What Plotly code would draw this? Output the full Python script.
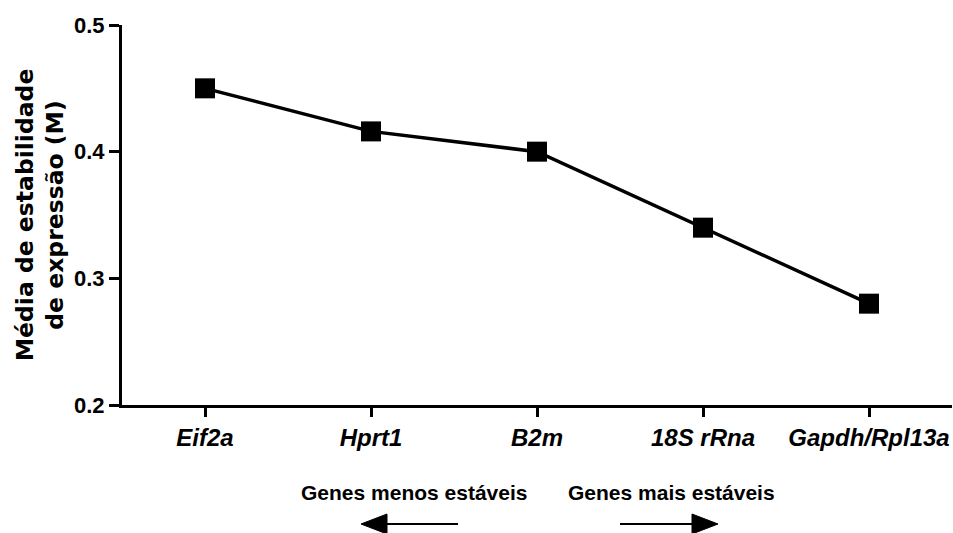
import plotly.graph_objects as go

# Expression stability (geNorm M value) per reference gene, least to most stable
genes = ["Eif2a", "Hprt1", "B2m", "18S rRna", "Gapdh/Rpl13a"]
m_values = [0.450, 0.416, 0.400, 0.340, 0.280]

y_ticks = [0.2, 0.3, 0.4, 0.5]
y_tick_text = ["0.2", "0.3", "0.4", "0.5"]

W, H = 953, 533
L, R, T, B = 122, 1, 25, 128
PW, PH = W - L - R, H - T - B

def px(x):
    return (x - L) / PW

def py(y):
    return (H - B - y) / PH

fig = go.Figure()
fig.add_trace(go.Scatter(
    x=list(range(len(genes))),
    y=m_values,
    mode="lines+markers",
    line=dict(color="black", width=3.5),
    marker=dict(symbol="square", size=20, color="black"),
    showlegend=False,
    hoverinfo="skip",
    cliponaxis=False,
))

fig.update_xaxes(
    range=[-0.5, len(genes) - 0.5],
    tickmode="array",
    tickvals=list(range(len(genes))),
    ticktext=genes,
    tickfont=dict(family="Liberation Sans", size=24, color="black",
                  weight="bold", style="italic"),
    ticks="outside", ticklen=9, tickwidth=3, tickcolor="black",
    showline=True, linewidth=3, linecolor="black",
    showgrid=False, zeroline=False,
)
fig.update_yaxes(
    range=[0.2, 0.5],
    tickmode="array",
    tickvals=y_ticks,
    ticktext=y_tick_text,
    tickfont=dict(family="Liberation Sans", size=22, color="black", weight="bold"),
    ticks="outside", ticklen=10, tickwidth=3, tickcolor="black",
    showline=True, linewidth=3, linecolor="black",
    showgrid=False, zeroline=False,
    title=dict(
        text="Média de estabilidade<br>de expressão (M)",
        font=dict(family="DejaVu Sans", size=23.5, color="black", weight="bold"),
        standoff=4,
    ),
)

# Direction labels and arrows beneath the axis
label_font = dict(family="Liberation Sans", size=21, color="black", weight="bold")
fig.add_annotation(text="Genes menos estáveis", x=px(414), y=py(492),
                   xref="paper", yref="paper", showarrow=False, font=label_font,
                   xanchor="center", yanchor="middle")
fig.add_annotation(text="Genes mais estáveis", x=px(671), y=py(492),
                   xref="paper", yref="paper", showarrow=False, font=label_font,
                   xanchor="center", yanchor="middle")

arrow_y = 524
head_len, head_half = 26, 10
arrows = [(458, 361), (620, 718)]  # (tail, tip) in pixels
for tail, tip in arrows:
    d = 1 if tip > tail else -1
    base = tip - d * head_len
    fig.add_shape(type="line", xref="paper", yref="paper",
                  x0=px(tail), y0=py(arrow_y), x1=px(base), y1=py(arrow_y),
                  line=dict(color="black", width=2))
    fig.add_shape(type="path", xref="paper", yref="paper",
                  path=(f"M {px(tip)} {py(arrow_y)} "
                        f"L {px(base)} {py(arrow_y - head_half)} "
                        f"L {px(base)} {py(arrow_y + head_half)} Z"),
                  fillcolor="black", line=dict(color="black", width=1))

fig.update_layout(
    width=W, height=H,
    margin=dict(l=L, r=R, t=T, b=B, autoexpand=False),
    paper_bgcolor="white", plot_bgcolor="white",
)

fig.write_html("out.html")
